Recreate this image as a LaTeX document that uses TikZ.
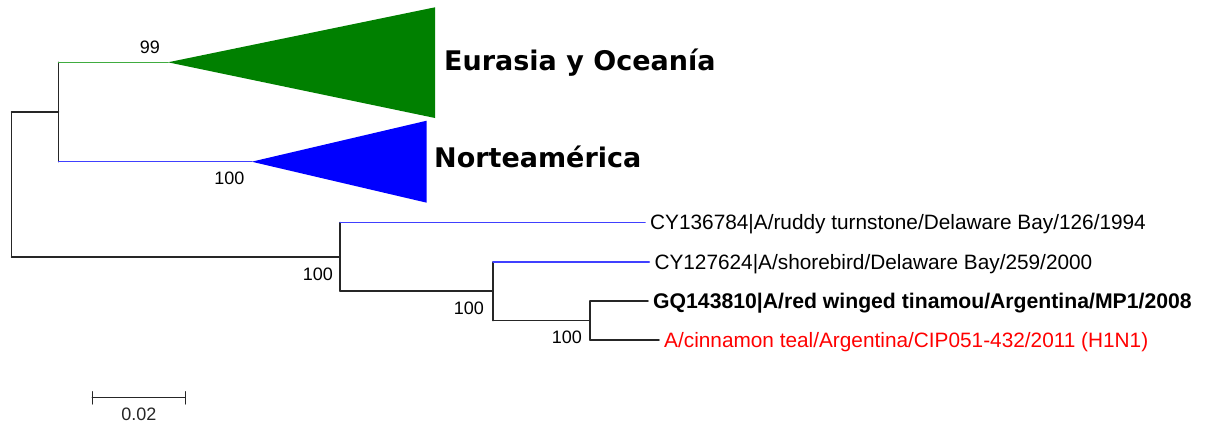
\documentclass[tikz,border=0pt]{standalone}
\usepackage{fontspec}
\setmainfont{Liberation Sans}
\newfontfamily\cladefont{DejaVu Sans}
\usetikzlibrary{positioning}
\definecolor{cladegreen}{RGB}{0,128,0}
\definecolor{cladeblue}{RGB}{0,0,255}
\definecolor{branchgreen}{RGB}{64,172,64}
\definecolor{branchblue}{RGB}{64,64,255}
\definecolor{leafred}{RGB}{255,0,0}
\tikzset{
  every picture/.append style={line cap=round,line join=round},
  tree branch/.style={black!85,line width=1.5pt},
  tree green/.style={branchgreen,line width=1.5pt},
  tree blue/.style={branchblue,line width=1.5pt},
  tree leaf/.style={anchor=west,inner xsep=5pt,inner ysep=0pt,text height=14.9pt,text depth=0pt,
    font=\fontsize{20.8}{24}\selectfont},
  tree boot/.style={inner sep=0pt,text height=12.9pt,text depth=0pt,font=\fontsize{18}{21}\selectfont},
  tree clade/.style={anchor=west,inner xsep=3pt,inner ysep=0pt,text height=19.7pt,text depth=0pt,
    font=\cladefont\bfseries\fontsize{27}{32}\selectfont}
}

\begin{document}
\begin{tikzpicture}[x=1pt, y=-1pt]
  \useasboundingbox (0,0) rectangle (1206,423);
  % forks: x is the depth, y the middle of the fork
  \coordinate (root) at (11.5,184.5);
  \coordinate (n1) at (58.5,112);
  \coordinate (n2) at (340,257);
  \coordinate (n3) at (493,291);
  \coordinate (n4) at (590,320.5);
  % collapsed clades
  \coordinate (eura) at (168,62.3);
  \coordinate (nort) at (251.7,161.7);
  \fill[cladegreen] (eura) -- (435,7.3) -- (435,118) -- cycle;
  \fill[cladeblue] (nort) -- (426.7,120.7) -- (426.7,202.7) -- cycle;
  \node[tree clade] (euralabel) at (441,60.3) {Eurasia y Oceanía};
  \node[tree clade] (nortlabel) at (431,157.5) {Norteamérica};
  % leaves
  \node[tree leaf] (ruddy) at (645,222.5) {CY136784|A/ruddy turnstone/Delaware Bay/126/1994};
  \node[tree leaf] (shore) at (649.3,262) {CY127624|A/shorebird/Delaware Bay/259/2000};
  \node[tree leaf, font=\bfseries\fontsize{21.2}{24}\selectfont, text height=15.2pt] (tinamou) at (648,301)
    {GQ143810|A/red winged tinamou/Argentina/MP1/2008};
  \node[tree leaf, text=leafred] (teal) at (659,340) {A/cinnamon teal/Argentina/CIP051-432/2011 (H1N1)};
  % branches
  \draw[tree branch] (root |- n1) -- (root |- n2);
  \draw[tree branch] (root |- n1) -- (n1);
  \draw[tree branch] (root |- n2) -- (n2);
  \draw[tree branch] (n1 |- eura) -- (n1 |- nort);
  \draw[tree green] (n1 |- eura) -- (eura);
  \draw[tree blue] (n1 |- nort) -- (nort);
  \draw[tree branch] (n2 |- ruddy) -- (n2 |- n3);
  \draw[tree blue] (n2 |- ruddy) -- (ruddy.west);
  \draw[tree branch] (n2 |- n3) -- (n3);
  \draw[tree branch] (n3 |- shore) -- (n3 |- n4);
  \draw[tree blue] (n3 |- shore) -- (shore.west);
  \draw[tree branch] (n3 |- n4) -- (n4);
  \draw[tree branch] (n4 |- tinamou) -- (n4 |- teal);
  \draw[tree branch] (n4 |- tinamou) -- (tinamou.west);
  \draw[tree branch] (n4 |- teal) -- (teal.west);
  % bootstrap values
  \node[tree boot, above left=9pt and 8pt of eura] (b1) {99};
  \node[tree boot, below left=10pt and 7pt of nort] (b2) {100};
  \node[tree boot, below left=10pt and 7pt of n2] (b3) {100};
  \node[tree boot, below left=10pt and 9pt of n3] (b4) {100};
  \node[tree boot, below left=9.5pt and 8pt of n4] (b5) {100};
  % scale bar
  \coordinate (sb0) at (92.3,397.3);
  \coordinate (sb1) at (185.3,397.3);
  \draw[tree branch, line width=1.3pt] (sb0) -- (sb1) node[tree boot, midway, below=10pt] (sblabel) {0.02};
  \draw[tree branch, line width=1.3pt] ([yshift=5.6pt]sb0) -- ([yshift=-6.7pt]sb0);
  \draw[tree branch, line width=1.3pt] ([yshift=5.6pt]sb1) -- ([yshift=-6.7pt]sb1);
\end{tikzpicture}
\end{document}
